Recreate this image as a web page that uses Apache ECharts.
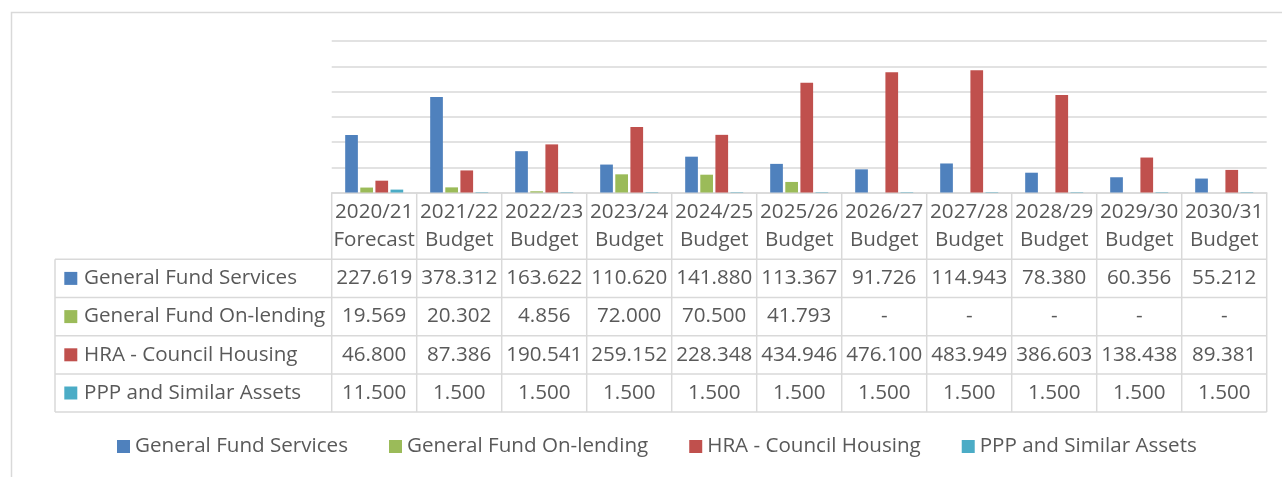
<!DOCTYPE html>
<html>
<head>
<meta charset="utf-8">
<script src="https://cdn.jsdelivr.net/npm/echarts@6/dist/echarts.min.js"></script>
<style>
html,body{margin:0;padding:0;background:#fff;}
#c{width:1282px;height:477px;}
</style>
</head>
<body>
<div id="c"></div>
<script>
const categories = ['2020/21\nForecast','2021/22\nBudget','2022/23\nBudget','2023/24\nBudget','2024/25\nBudget','2025/26\nBudget','2026/27\nBudget','2027/28\nBudget','2028/29\nBudget','2029/30\nBudget','2030/31\nBudget'];
const seriesNames = ['General Fund Services','General Fund On-lending','HRA - Council Housing','PPP and Similar Assets'];
const gfServices = [227.619,378.312,163.622,110.620,141.880,113.367,91.726,114.943,78.380,60.356,55.212];
const gfOnLending = [19.569,20.302,4.856,72.000,70.500,41.793,null,null,null,null,null];
const hraHousing = [46.800,87.386,190.541,259.152,228.348,434.946,476.100,483.949,386.603,138.438,89.381];
const pppAssets = [11.500,1.500,1.500,1.500,1.500,1.500,1.500,1.500,1.500,1.500,1.500];
const yTicks = {min:0, max:600, interval:100};

const colors = ['#4F81BD','#9BBB59','#C0504D','#4BACC6'];
const allData = [gfServices, gfOnLending, hraHousing, pppAssets];
const FONT = '"Open Sans", "Noto Sans", sans-serif';
const FS = 20.6;
const TXT = '#595959';
const LINE = '#d9d9d9';

const chart = echarts.init(document.getElementById('c'), null, {renderer:'canvas'});
const option = {
  animation:false,
  color: colors,
  grid:{left:331.7, right:15.3, top:41, bottom:284.5, containLabel:false},
  legend:{
    data: seriesNames, left:112, top:430.5, itemWidth:13, itemHeight:13, itemGap:41,
    icon:'rect',
    textStyle:{fontFamily:FONT, fontSize:FS, color:TXT, lineHeight:22}
  },
  xAxis:{
    type:'category', data:categories,
    axisLine:{show:true, lineStyle:{color:LINE, width:1.5}},
    axisTick:{show:false},
    axisLabel:{interval:0, fontFamily:FONT, fontSize:FS, color:TXT, lineHeight:28, margin:5.5}
  },
  yAxis:{
    type:'value', min:yTicks.min, max:yTicks.max, interval:yTicks.interval,
    axisLabel:{show:false}, axisLine:{show:false}, axisTick:{show:false},
    splitLine:{lineStyle:{color:LINE, width:1.5}}
  },
  series: seriesNames.map((n,i)=>({
    name:n, type:'bar', data:allData[i], barWidth:12.7, barGap:'19%',
    itemStyle:{color:colors[i]}
  }))
};
chart.setOption(option);

function fmt(v){ return v==null ? '-' : v.toFixed(3); }

const centers = categories.map((c,i)=>chart.convertToPixel({xAxisIndex:0}, i));
const band = centers[1]-centers[0];
const colLeft = centers[0]-band/2;
const colRight = centers[centers.length-1]+band/2;
const baseY = chart.convertToPixel({yAxisIndex:0}, 0);
const headBottom = 259.3;
const rowH = 38.2;
const tableLeft = 55;

const g = [];
g.push({type:'rect', shape:{x:11.5,y:12.5,width:1400,height:600}, style:{fill:'none', stroke:LINE, lineWidth:1.5}, z:0});
for(let k=0;k<=categories.length;k++){
  const x = colLeft + k*band;
  g.push({type:'line', shape:{x1:x,y1:baseY,x2:x,y2:headBottom+rowH*seriesNames.length}, style:{stroke:LINE,lineWidth:1.5}});
}
g.push({type:'line', shape:{x1:tableLeft,y1:headBottom,x2:tableLeft,y2:headBottom+rowH*seriesNames.length}, style:{stroke:LINE,lineWidth:1.5}});
for(let r=0;r<=seriesNames.length;r++){
  const y = headBottom + r*rowH;
  g.push({type:'line', shape:{x1:tableLeft,y1:y,x2:colRight,y2:y}, style:{stroke:LINE,lineWidth:1.5}});
}
seriesNames.forEach((n,r)=>{
  const cy = headBottom + (r+0.5)*rowH;
  g.push({type:'rect', shape:{x:64.3,y:cy-6.5,width:13,height:13}, style:{fill:colors[r]}});
  g.push({type:'text', style:{text:n, x:84, y:cy, textAlign:'left', textVerticalAlign:'middle', font:FS+'px '+FONT, fill:TXT}});
  allData[r].forEach((v,i)=>{
    g.push({type:'text', style:{text:fmt(v), x:centers[i], y:cy, textAlign:'center', textVerticalAlign:'middle', font:FS+'px '+FONT, fill:TXT}});
  });
});
chart.setOption({graphic:{elements:g}});
</script>
</body>
</html>
